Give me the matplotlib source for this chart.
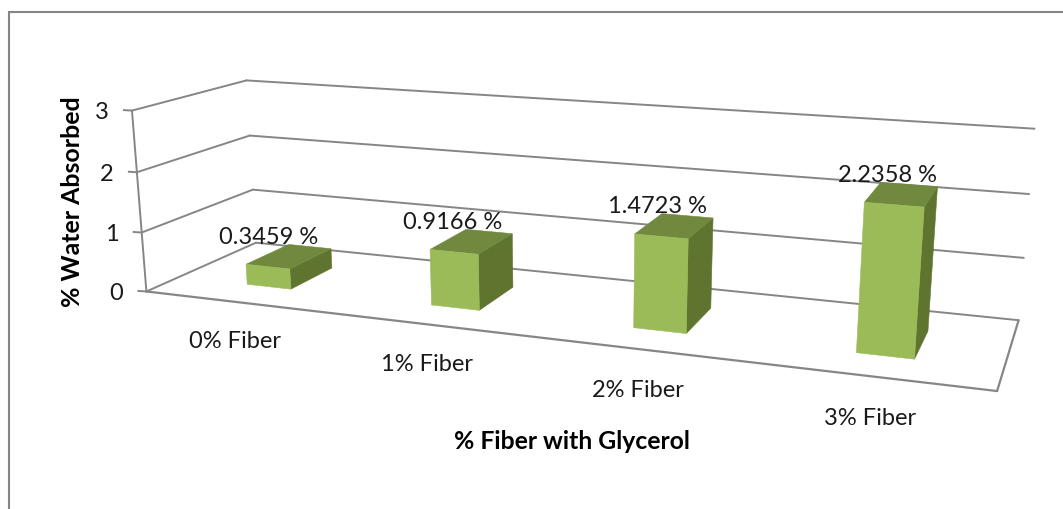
import numpy as np
import matplotlib
matplotlib.use("Agg")
import matplotlib.pyplot as plt
from matplotlib.patches import Polygon

categories = ["0% Fiber", "1% Fiber", "2% Fiber", "3% Fiber"]
water_absorbed = [0.3459, 0.9166, 1.4723, 2.2358]
value_ticks = [0, 1, 2, 3]
x_title = "% Fiber with Glycerol"
y_title = "% Water Absorbed"

FRONT = "#9BBB59"
TOP = "#71893F"
SIDE = "#5F752F"
GRID = "#868686"
FRAME = "#858585"
INK = "#1a1a1a"

plt.rcParams["font.family"] = ["Lato", "DejaVu Sans"]

# Camera calibration: (category position, depth, value) -> pixel position.
anchors = [
    (0, 0, 0, 147, 292), (0, 0, 1, 142, 233), (0, 0, 2, 137, 173), (0, 0, 3, 131, 112),
    (0, 1, 0, 255, 245), (0, 1, 1, 253, 190), (0, 1, 2, 250, 137), (0, 1, 3, 247, 81),
    (4, 1, 0, 1019, 320), (4, 1, 1, 1024, 259), (4, 1, 2, 1028, 195), (4, 1, 3, 1035, 130),
    (4, 0, 0, 997, 393),
]


def fit_camera(points):
    rows = []
    for cx, d, v, px, py in points:
        rows.append([cx, d, v, 1, 0, 0, 0, 0, -px * cx, -px * d, -px * v, -px])
        rows.append([0, 0, 0, 0, cx, d, v, 1, -py * cx, -py * d, -py * v, -py])
    return np.linalg.svd(np.array(rows, dtype=float))[2][-1].reshape(3, 4)


CAMERA = fit_camera(anchors)


def project(cx, d, v):
    p = CAMERA @ np.array([cx, d, v, 1.0])
    return p[0] / p[2], p[1] / p[2]


fig = plt.figure(figsize=(10.63, 5.10), dpi=100, facecolor="white")
ax = fig.add_axes([0, 0, 1, 1])
ax.set_xlim(0, 1063)
ax.set_ylim(510, 0)
ax.axis("off")

# Chart area border, open at the right and bottom edges of the figure.
ax.plot([8.5, 8.5, 1063], [510, 12.5, 12.5], color=FRAME, lw=1.5, solid_joinstyle="miter")


def segment(a, b, lw=1.4):
    pa, pb = project(*a), project(*b)
    ax.plot([pa[0], pb[0]], [pa[1], pb[1]], color=GRID, lw=lw, solid_capstyle="round", zorder=1)


# Wall gridlines, floor outline, value axis and its ticks.
for v in value_ticks:
    segment((0, 0, v), (0, 1, v))
    segment((0, 1, v), (4, 1, v))
    px, py = project(0, 0, v)
    ax.plot([px - 8, px], [py - 0.5, py], color=GRID, lw=1.4, zorder=1)
    ax.text(px - 30, py + 1, str(v), fontsize=17, color=INK, ha="center", va="center")
segment((0, 0, 0), (0, 0, value_ticks[-1]))
segment((0, 0, 0), (4, 0, 0), lw=1.6)
segment((4, 0, 0), (4, 1, 0), lw=1.6)

BAR_LEFT, BAR_RIGHT = 0.39, 0.635
DEPTH_FRONT, DEPTH_BACK = 0.28, 0.69


def face(corners, color):
    ax.add_patch(Polygon([project(*c) for c in corners], closed=True, facecolor=color,
                         edgecolor=color, lw=0.4, zorder=3))


for i, (name, value) in enumerate(zip(categories, water_absorbed)):
    x0, x1 = i + BAR_LEFT, i + BAR_RIGHT
    d0, d1 = DEPTH_FRONT, DEPTH_BACK
    face([(x1, d0, 0), (x1, d1, 0), (x1, d1, value), (x1, d0, value)], SIDE)
    face([(x0, d0, value), (x1, d0, value), (x1, d1, value), (x0, d1, value)], TOP)
    face([(x0, d0, 0), (x1, d0, 0), (x1, d0, value), (x0, d0, value)], FRONT)

    # Value label sits just above the front-left corner of the bar top.
    tx, ty = project(x0, d0, value)
    ax.text(tx + 23, ty - 28, f"{value:.4f} %", fontsize=17, color=INK,
            ha="center", va="center", zorder=4)

    # Category labels run parallel to the front floor edge.
    lx, ly = project(0.813 + 0.9213 * i, -0.508 + 0.0147 * i, 0)
    ax.text(lx, ly, name, fontsize=17, color=INK, ha="center", va="center")

ax.text(572, 442, x_title, fontsize=17.8, fontweight="bold", color="black", ha="center", va="center")
ax.text(72, 202, y_title, fontsize=17.9, fontweight="bold", color="black", rotation=90,
        ha="center", va="center")

fig.savefig("out.png", dpi=100, facecolor="white")
